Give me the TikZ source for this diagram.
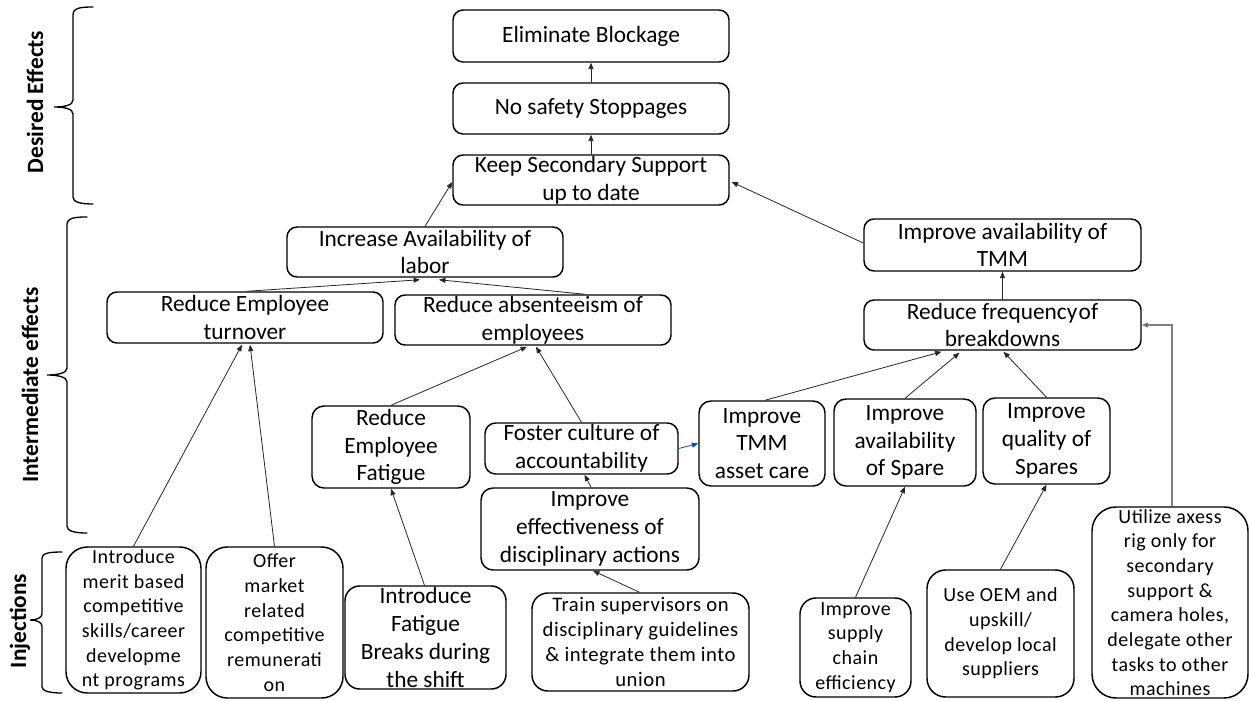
\documentclass[tikz,border=0pt]{standalone}
\usepackage{fontspec}
\setmainfont{Carlito}
\newfontfamily\spcfont[LetterSpace=2.5]{Carlito}
\usetikzlibrary{arrows.meta,calc}

\begin{document}
\begin{tikzpicture}[x=0.75pt,y=-0.75pt,
  box/.style={draw, line width=1.1pt, rounded corners=#1, inner sep=0pt},
  box/.default=7.5pt,
  sz/.style 2 args={minimum width=#1*0.75pt, minimum height=#2*0.75pt},
  txt/.style={align=center, font=\fontsize{17.5}{20.8}\selectfont, inner sep=0pt},
  stxt/.style={align=center, font=\spcfont\fontsize{15}{18.5}\selectfont, inner sep=0pt},
  wtxt/.style={align=center, font=\spcfont\fontsize{15.5}{18.7}\selectfont, inner sep=0pt},
  lbl/.style={font=\bfseries\fontsize{17.5}{21}\selectfont, inner sep=0pt, rotate=90},
  conn/.style={line width=0.6pt, draw=black!85, -{Triangle[length=4.8pt,width=3.8pt]}},
  bconn/.style={conn, draw=blue!55!cyan!70!black},
  gconn/.style={line width=1pt, draw=black!50, -{Triangle[length=4.8pt,width=3.8pt,fill=black]}},
  brace/.style={line width=1pt, line cap=round}
]
\useasboundingbox (0,0) rectangle (1249,700);

% ---- side braces and their headings
\draw[brace] (93,7) .. controls (80,7) and (73,8) .. (73,15) -- (73,100)
  .. controls (73,105) and (65,107) .. (54,107)
  .. controls (65,107) and (73,109) .. (73,114) -- (73,197)
  .. controls (73,202) and (80,204) .. (93,204);
\node[lbl] (desired) at (35,102) {Desired Effects};

\draw[brace] (87,217) .. controls (74,217) and (67,218) .. (67,225) -- (67,368)
  .. controls (67,373) and (58,375) .. (47,375)
  .. controls (58,375) and (67,377) .. (67,382) -- (67,526)
  .. controls (67,531) and (74,533) .. (87,533);
\node[lbl] (inter) at (30,385) {Intermediate effects};

\draw[brace] (62,552) .. controls (50,552) and (42,553) .. (42,558) -- (42,614)
  .. controls (42,618) and (36,620) .. (30,620)
  .. controls (36,620) and (42,622) .. (42,626) -- (42,687)
  .. controls (42,691) and (50,693) .. (62,693);
\node[lbl] (inj) at (20,621) {Injections};

% ---- desired effects
\node[box, sz={276}{52}, label={[txt]center:Eliminate Blockage}] (elim) at (591,36) {};
\node[box, sz={276}{51}, label={[txt]center:No safety Stoppages}] (nosafe) at (591,108.5) {};
\node[box, sz={276}{50}, label={[txt]center:{Keep Secondary Support\\up to date}}] (keep) at (591,180) {};

% ---- intermediate effects
\node[box, sz={276}{50}, label={[txt]center:{Increase Availability of\\labor}}] (incr) at (425,252) {};
\node[box, sz={276}{51}, label={[txt]center:{Reduce Employee\\turnover}}] (turn) at (245,317.5) {};
\node[box, sz={276}{50}, label={[txt]center:{Reduce absenteeism of\\employees}}] (absent) at (533,320) {};
\node[box, sz={277}{52}, label={[txt]center:{Improve availability of\\TMM}}] (availTMM) at (1002.5,245) {};
\node[box, sz={277}{50}, label={[txt]center:{Reduce frequency\hspace{1pt}of\\breakdowns}}] (freq) at (1002.5,325) {};
\node[box=9pt, sz={126}{85}, label={[txt]center:{Improve\\TMM\\asset care}}] (tmmcare) at (762,443.5) {};
\node[box=9pt, sz={142}{87}, label={[txt]center:{Improve\\availability\\of Spare}}] (spare) at (905,442.5) {};
\node[box=9pt, sz={127}{86}, label={[txt]center:{Improve\\quality of\\Spares}}] (quality) at (1046.5,441) {};
\node[box=9pt, sz={158}{82}, label={[txt]center:{Reduce\\Employee\\Fatigue}}] (fatigue) at (391,447) {};
\node[box=8pt, sz={193}{51}, label={[txt]center:{Foster culture of\\accountability}}] (foster) at (581.5,448.5) {};
\node[box=9pt, sz={218}{82}, label={[txt]center:{Improve\\effectiveness of\\disciplinary actions}}] (effect) at (590,529) {};

% ---- injections
\node[box=11pt, sz={161}{103}, label={[txt]center:{Introduce\\Fatigue\\Breaks during\\the shift}}] (breaks) at (425.5,637.5) {};
\node[box=12pt, sz={217}{98}, label={[wtxt]center:{Train supervisors on\\disciplinary guidelines\\\& integrate them into\\union}}] (train) at (640.5,642) {};
\node[box=16pt, sz={135}{146}, label={[stxt]center:{Introduce\\merit based\\competitive\\skills/career\\developme\\nt programs}}] (merit) at (133.5,620) {};
\node[box=16pt, sz={137}{151}, label={[stxt]center:{Offer\\market\\related\\competitive\\remunerati\\on}}] (offer) at (274.5,622.5) {};
\node[box=12pt, sz={111}{99}, label={[stxt]center:{Improve\\supply\\chain\\efficiency}}] (supply) at (855.5,647.5) {};
\node[box=14pt, sz={147}{127}, label={[stxt]center:{Use OEM and\\upskill/\\develop local\\suppliers}}] (oem) at (1000.5,633.5) {};
\node[box=18pt, sz={156}{191}, label={[stxt]center:{Utilize axess\\rig only for\\secondary\\support \&\\camera holes,\\delegate other\\tasks to other\\machines}}] (util) at (1170,602.5) {};

% ---- connectors
\draw[conn] (nosafe.north) -- (elim.south);
\draw[conn] (keep.north) -- (nosafe.south);
\draw[conn] (incr.north) -- ($(keep.west)+(0,2)$);
\draw[conn] ($(turn.north)+(2,0)$) -- ($(incr.south)+(-5,2)$);
\draw[conn] ($(absent.north)+(52,0)$) -- ($(incr.south)+(14,2)$);
\draw[conn] (merit.north) -- ($(turn.south)+(-3,1)$);
\draw[conn] (offer.north) -- ($(turn.south)+(5,1)$);
\draw[conn] (fatigue.north) -- ($(absent.south)+(-6,1)$);
\draw[conn] (foster.north) -- ($(absent.south)+(3,1)$);
\draw[conn] ($(effect.north)+(1,0)$) -- ($(foster.south)+(3,0)$);
\draw[conn] ($(train.north)+(-1,0)$) -- ($(effect.south)+(3,0)$);
\draw[conn] ($(breaks.north)+(-1,0)$) -- (fatigue.south);
\draw[bconn] (foster.east) -- (tmmcare.west);
\draw[conn] ($(tmmcare.north)+(3,0)$) -- ($(freq.south)+(-61,1)$);
\draw[conn] (spare.north) -- ($(freq.south)+(-43,2)$);
\draw[conn] (quality.north) -- ($(freq.south)+(1,1)$);
\draw[conn] (freq.north) -- (availTMM.south);
\draw[conn] ($(availTMM.west)+(0,-2)$) -- ($(keep.east)+(2,2)$);
\draw[gconn] ($(util.north)+(2,0)$) |- (freq.east);
\draw[conn] (supply.north) -- (spare.south);
\draw[conn] (oem.north) -- (quality.south);
\end{tikzpicture}
\end{document}
